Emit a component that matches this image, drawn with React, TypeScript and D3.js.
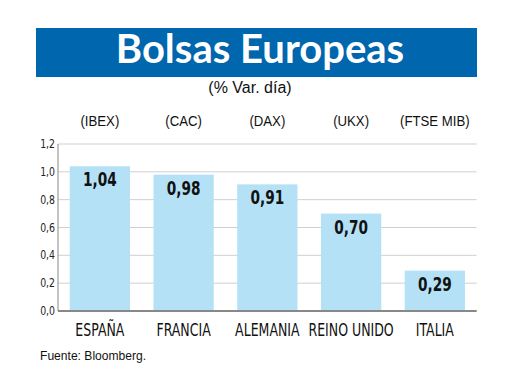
import { useRef, useEffect } from "react"
import * as d3 from "d3"

const countries = ["ESPAÑA", "FRANCIA", "ALEMANIA", "REINO UNIDO", "ITALIA"]
const indices = ["(IBEX)", "(CAC)", "(DAX)", "(UKX)", "(FTSE MIB)"]
const changes = [1.04, 0.98, 0.91, 0.7, 0.29]
const yTicks = [0, 0.2, 0.4, 0.6, 0.8, 1.0, 1.2]

const W = 520
const H = 390
const narrow = "'DejaVu Sans Condensed', sans-serif"
const arial = "'Liberation Sans', Arial, sans-serif"
const fmt = (v: number, d: number) => v.toFixed(d).replace(".", ",")

export default function App() {
  const svgRef = useRef<SVGSVGElement>(null)

  useEffect(() => {
    if (!svgRef.current) return
    const svg = d3.select(svgRef.current)
    svg.selectAll("*").remove()

    // Header band
    svg.append("rect").attr("x", 36).attr("y", 28).attr("width", 441).attr("height", 49).attr("fill", "#0066ad")
    svg
      .append("text")
      .attr("x", 260)
      .attr("y", 63)
      .attr("text-anchor", "middle")
      .attr("fill", "#fff")
      .attr("font-family", "Lato, sans-serif")
      .attr("font-weight", 700)
      .attr("font-size", 40)
      .text("Bolsas Europeas")
    svg
      .append("text")
      .attr("x", 250)
      .attr("y", 93)
      .attr("text-anchor", "middle")
      .attr("fill", "#111")
      .attr("font-family", arial)
      .attr("font-size", 16)
      .text("(% Var. día)")

    const x = d3.scaleBand<string>().domain(countries).range([58, 476.7]).paddingInner(0.28).paddingOuter(0.14)
    const y = d3.scaleLinear().domain([0, 1.2]).range([311, 144])

    // Gridlines
    svg
      .append("g")
      .selectAll("line")
      .data(yTicks.filter((t) => t > 0))
      .join("line")
      .attr("x1", 58)
      .attr("x2", 476.7)
      .attr("y1", (d) => y(d))
      .attr("y2", (d) => y(d))
      .attr("stroke", "#d0d0d0")
      .attr("stroke-width", 1)

    // Tick labels
    svg
      .append("g")
      .selectAll("text")
      .data(yTicks)
      .join("text")
      .attr("transform", (d) => `translate(55,${y(d) + 4}) scale(0.8,1)`)
      .attr("text-anchor", "end")
      .attr("font-family", narrow)
      .attr("font-size", 13)
      .attr("fill", "#222")
      .text((d) => fmt(d, 1))

    // Bars
    svg
      .append("g")
      .selectAll("rect")
      .data(changes)
      .join("rect")
      .attr("x", (d, i) => x(countries[i])!)
      .attr("y", (d) => y(d))
      .attr("width", x.bandwidth())
      .attr("height", (d) => y(0) - y(d))
      .attr("fill", "#b5e1f7")

    // Value labels
    svg
      .append("g")
      .selectAll("text")
      .data(changes)
      .join("text")
      .attr("transform", (d, i) => `translate(${x(countries[i])! + x.bandwidth() / 2},${y(d) + 20}) scale(0.8,1)`)
      .attr("text-anchor", "middle")
      .attr("font-family", narrow)
      .attr("font-weight", 700)
      .attr("font-size", 19)
      .attr("fill", "#111")
      .text((d) => fmt(d, 2))

    // Axes lines
    svg.append("line").attr("x1", 58).attr("x2", 58).attr("y1", 144).attr("y2", 311).attr("stroke", "#888").attr("stroke-width", 1)
    svg.append("line").attr("x1", 58).attr("x2", 476.7).attr("y1", 311).attr("y2", 311).attr("stroke", "#888").attr("stroke-width", 2)

    // Country labels
    svg
      .append("g")
      .selectAll("text")
      .data(countries)
      .join("text")
      .attr("transform", (d) => `translate(${x(d)! + x.bandwidth() / 2},336) scale(0.82,1)`)
      .attr("text-anchor", "middle")
      .attr("font-family", narrow)
      .attr("font-size", 17)
      .attr("fill", "#111")
      .text((d) => d)

    // Index labels
    svg
      .append("g")
      .selectAll("text")
      .data(indices)
      .join("text")
      .attr("transform", (d, i) => `translate(${x(countries[i])! + x.bandwidth() / 2},126) scale(0.88,1)`)
      .attr("text-anchor", "middle")
      .attr("font-family", arial)
      .attr("font-size", 15)
      .attr("fill", "#111")
      .text((d) => d)

    svg
      .append("text")
      .attr("transform", "translate(40,360) scale(0.93,1)")
      .attr("font-family", arial)
      .attr("font-size", 13)
      .attr("fill", "#111")
      .text("Fuente: Bloomberg.")
  }, [])

  return (
    <svg
      ref={svgRef}
      width={W}
      height={H}
      viewBox={`0 0 ${W} ${H}`}
      style={{ position: "absolute", left: 0, top: 0, background: "#fff" }}
    />
  )
}
